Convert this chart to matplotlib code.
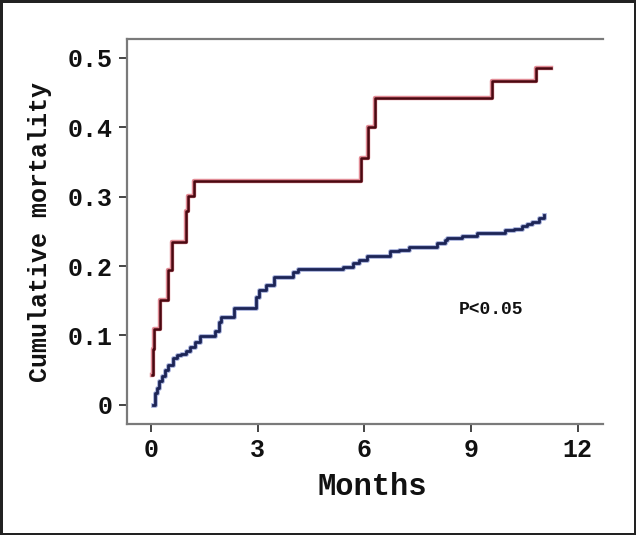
import matplotlib
matplotlib.use('Agg')
import matplotlib.pyplot as plt

# red group (step curve)
red_months = [0.03, 0.05, 0.08, 0.26, 0.47, 0.60, 0.98, 1.05, 1.21, 5.90, 6.10, 6.30, 9.58, 10.83, 11.24]
red_mort = [0.043, 0.08, 0.11, 0.151, 0.195, 0.235, 0.28, 0.301, 0.322, 0.356, 0.400, 0.442, 0.466, 0.486, 0.486]

# blue group
blue_months = [0.07, 0.11, 0.18, 0.23, 0.30, 0.39, 0.49, 0.63, 0.74, 0.86, 1.00, 1.11, 1.23, 1.37,
               1.79, 1.93, 1.98, 2.35, 2.96, 3.03, 3.24, 3.47, 3.99, 4.13, 5.39, 5.67, 5.85, 6.09,
               6.72, 6.99, 7.27, 8.05, 8.28, 8.33, 8.75, 9.17, 9.96, 10.20, 10.43, 10.57, 10.71,
               10.91, 11.06]
blue_mort = [0.0, 0.017, 0.024, 0.034, 0.041, 0.050, 0.058, 0.067, 0.072, 0.074, 0.077, 0.084, 0.091, 0.099,
             0.106, 0.120, 0.127, 0.139, 0.156, 0.166, 0.173, 0.184, 0.192, 0.196, 0.199, 0.204, 0.209, 0.215,
             0.221, 0.223, 0.227, 0.233, 0.237, 0.240, 0.243, 0.248, 0.252, 0.254, 0.257, 0.261, 0.264,
             0.269, 0.274]

x_ticks = [0, 3, 6, 9, 12]
y_ticks = [0, 0.1, 0.2, 0.3, 0.4, 0.5]
y_labels = ['0', '0.1', '0.2', '0.3', '0.4', '0.5']

fig = plt.figure(figsize=(6.36, 5.35), dpi=100, facecolor='white', edgecolor='#222222', linewidth=3.5)
ax = fig.add_axes([0.1997, 0.2075, 0.7483, 0.7195])

ax.step(red_months, red_mort, where='post', color='#d04050', lw=3.2, alpha=0.6)
ax.step(red_months, red_mort, where='post', color='#4a0810', lw=1.8)
ax.step(blue_months, blue_mort, where='post', color='#6a7ac0', lw=3.4, alpha=0.6)
ax.step(blue_months, blue_mort, where='post', color='#1c2456', lw=2.0)

ax.set_xlim(-0.67, 12.71)
ax.set_ylim(-0.0275, 0.527)
ax.set_xticks(x_ticks)
ax.set_yticks(y_ticks)
ax.set_yticklabels(y_labels)

for s in ['top', 'left', 'bottom']:
    ax.spines[s].set_color('#7a7a7a')
    ax.spines[s].set_linewidth(1.6)
ax.spines['right'].set_visible(False)

ax.tick_params(direction='out', length=6, width=1.4, color='#444444', pad=4)
for lab in ax.get_xticklabels() + ax.get_yticklabels():
    lab.set_fontfamily('Liberation Mono')
    lab.set_fontweight('bold')
    lab.set_fontsize(18)
    lab.set_color('#111111')

ax.text(9.55, 0.138, 'P<0.05', family='Liberation Mono', weight='bold', fontsize=13,
        ha='center', va='center', color='#111111')

fig.text(0.063, 0.566, 'Cumulative mortality', rotation=90, family='Liberation Mono',
         weight='bold', fontsize=18, ha='center', va='center', color='#111111')
fig.text(0.585, 0.090, 'Months', family='Liberation Mono', weight='bold', fontsize=22,
         ha='center', va='center', color='#111111')

fig.savefig('out.png', dpi=100, facecolor='white', edgecolor='#222222')
